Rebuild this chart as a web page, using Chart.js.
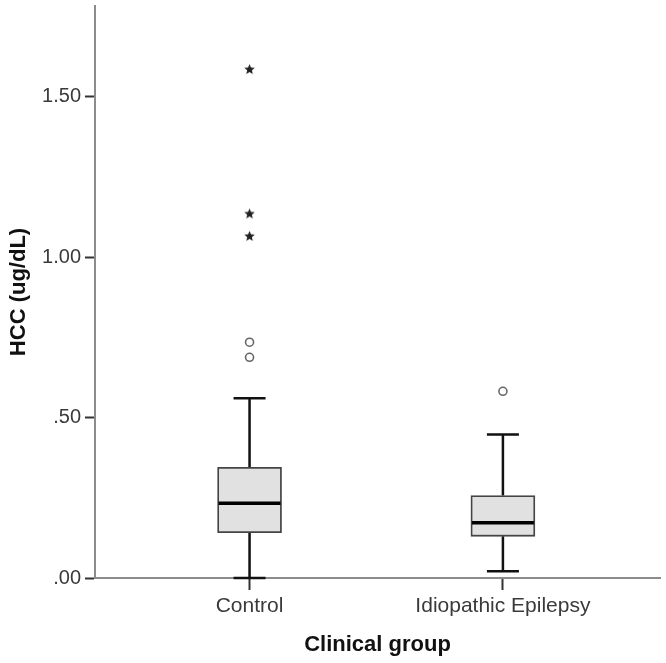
<!DOCTYPE html>
<html><head><meta charset="utf-8">
<script src="https://cdn.jsdelivr.net/npm/chart.js@4/dist/chart.umd.min.js"></script>
<style>html,body{margin:0;padding:0;background:#fff}#wrap{width:666px;height:663px}</style>
</head><body><div id="wrap"><canvas id="c" width="666" height="663"></canvas></div>
<script>
const categories = ['Control', 'Idiopathic Epilepsy'];
const whiskerLow = [0.000, 0.021];
const q1 = [0.141, 0.130];
const median = [0.233, 0.172];
const q3 = [0.345, 0.257];
const whiskerHigh = [0.560, 0.447];
const outlierGroup = [0, 0, 1];
const outlierValues = [0.735, 0.688, 0.582];
const extremeGroup = [0, 0, 0];
const extremeValues = [1.585, 1.135, 1.065];
const yTickValues = [0, 0.5, 1.0, 1.5];
const yTickLabels = ['.00', '.50', '1.00', '1.50'];
const yTitle = 'HCC (ug/dL)';
const xTitle = 'Clinical group';

const FONT = "'Liberation Sans', Arial, sans-serif";

function makeStar(r, color) {
  const s = Math.ceil(r * 2 + 2);
  const c = document.createElement('canvas');
  c.width = s; c.height = s;
  const g = c.getContext('2d');
  g.fillStyle = color;
  g.beginPath();
  for (let i = 0; i < 10; i++) {
    const rad = i % 2 ? r * 0.45 : r;
    const a = -Math.PI / 2 + i * Math.PI / 5;
    g.lineTo(s / 2 + rad * Math.cos(a), s / 2 + rad * Math.sin(a));
  }
  g.closePath();
  g.fill();
  return c;
}

const boxParts = {
  id: 'boxParts',
  beforeDatasetsDraw(chart) {
    const x = chart.scales.x, y = chart.scales.y, ctx = chart.ctx;
    ctx.save();
    ctx.strokeStyle = '#111';
    ctx.lineWidth = 2.5;
    const capHalf = 16;
    categories.forEach((_, i) => {
      const px = x.getPixelForValue(i);
      const lo = y.getPixelForValue(whiskerLow[i]);
      const hi = y.getPixelForValue(whiskerHigh[i]);
      ctx.beginPath();
      ctx.moveTo(px, lo);
      ctx.lineTo(px, y.getPixelForValue(q1[i]));
      ctx.moveTo(px, y.getPixelForValue(q3[i]));
      ctx.lineTo(px, hi);
      ctx.moveTo(px - capHalf, lo); ctx.lineTo(px + capHalf, lo);
      ctx.moveTo(px - capHalf, hi); ctx.lineTo(px + capHalf, hi);
      ctx.stroke();
    });
    ctx.restore();
  },
  afterDatasetsDraw(chart) {
    const x = chart.scales.x, y = chart.scales.y, ctx = chart.ctx;
    ctx.save();
    ctx.strokeStyle = '#000';
    ctx.lineWidth = 3.5;
    const half = 31;
    categories.forEach((_, i) => {
      const px = x.getPixelForValue(i);
      const py = y.getPixelForValue(median[i]);
      ctx.beginPath();
      ctx.moveTo(px - half, py); ctx.lineTo(px + half, py);
      ctx.stroke();
    });
    ctx.restore();
  }
};

new Chart(document.getElementById('c'), {
  type: 'scatter',
  data: {
    datasets: [
      {
        type: 'scatter',
        data: extremeGroup.map((g, i) => ({ x: g, y: extremeValues[i] })),
        pointStyle: makeStar(5.5, '#222'),
        pointRadius: 5
      },
      {
        type: 'scatter',
        data: outlierGroup.map((g, i) => ({ x: g, y: outlierValues[i] })),
        pointStyle: 'circle',
        pointRadius: 4,
        borderColor: '#666',
        backgroundColor: '#fff',
        borderWidth: 1.6
      },
      {
        type: 'bar',
        data: categories.map((_, i) => ({ x: i, y: [q1[i], q3[i]] })),
        backgroundColor: '#e1e1e1',
        borderColor: '#444',
        borderWidth: 1.8,
        borderSkipped: false,
        barThickness: 64
      }
    ]
  },
  options: {
    responsive: false,
    animation: false,
    layout: { padding: { top: 5, right: 4, left: 0, bottom: 0 } },
    plugins: { legend: { display: false }, tooltip: { enabled: false } },
    scales: {
      x: {
        type: 'linear',
        offset: false,
        min: -0.61,
        max: 1.62,
        afterBuildTicks: s => { s.ticks = categories.map((_, i) => ({ value: i })); },
        afterFit: s => { s.height = 85; s.paddingLeft = 0; s.paddingRight = 0; },
        ticks: {
          callback: v => categories[v] ?? '',
          font: { family: FONT, size: 21 },
          color: '#3a3a3a',
          padding: 4,
          maxRotation: 0,
          autoSkip: false
        },
        grid: { offset: false, drawOnChartArea: false, drawTicks: true, tickLength: 12, tickWidth: 2, tickColor: '#333' },
        border: { display: true, color: '#8c8c8c', width: 2 },
        title: {
          display: true, text: xTitle, color: '#111',
          font: { family: FONT, size: 22, weight: 'bold', lineHeight: 1.2 },
          padding: { top: 0, bottom: 5 }
        }
      },
      y: {
        type: 'linear',
        min: 0,
        max: 1.783,
        afterBuildTicks: s => { s.ticks = yTickValues.map(v => ({ value: v })); },
        afterFit: s => { s.width = 95; s.paddingTop = 0; s.paddingBottom = 0; },
        ticks: {
          callback: v => { const k = yTickValues.indexOf(v); return k >= 0 ? yTickLabels[k] : ''; },
          font: { family: FONT, size: 20 },
          color: '#3a3a3a',
          padding: 4
        },
        grid: { drawOnChartArea: false, drawTicks: true, tickLength: 10, tickWidth: 2, tickColor: '#333' },
        border: { display: true, color: '#8c8c8c', width: 2 },
        title: {
          display: true, text: yTitle, color: '#111',
          font: { family: FONT, size: 22, weight: 'bold', lineHeight: 1.2 },
          padding: { top: 6, bottom: 0 }
        }
      }
    }
  },
  plugins: [boxParts]
});
</script>
</body></html>
